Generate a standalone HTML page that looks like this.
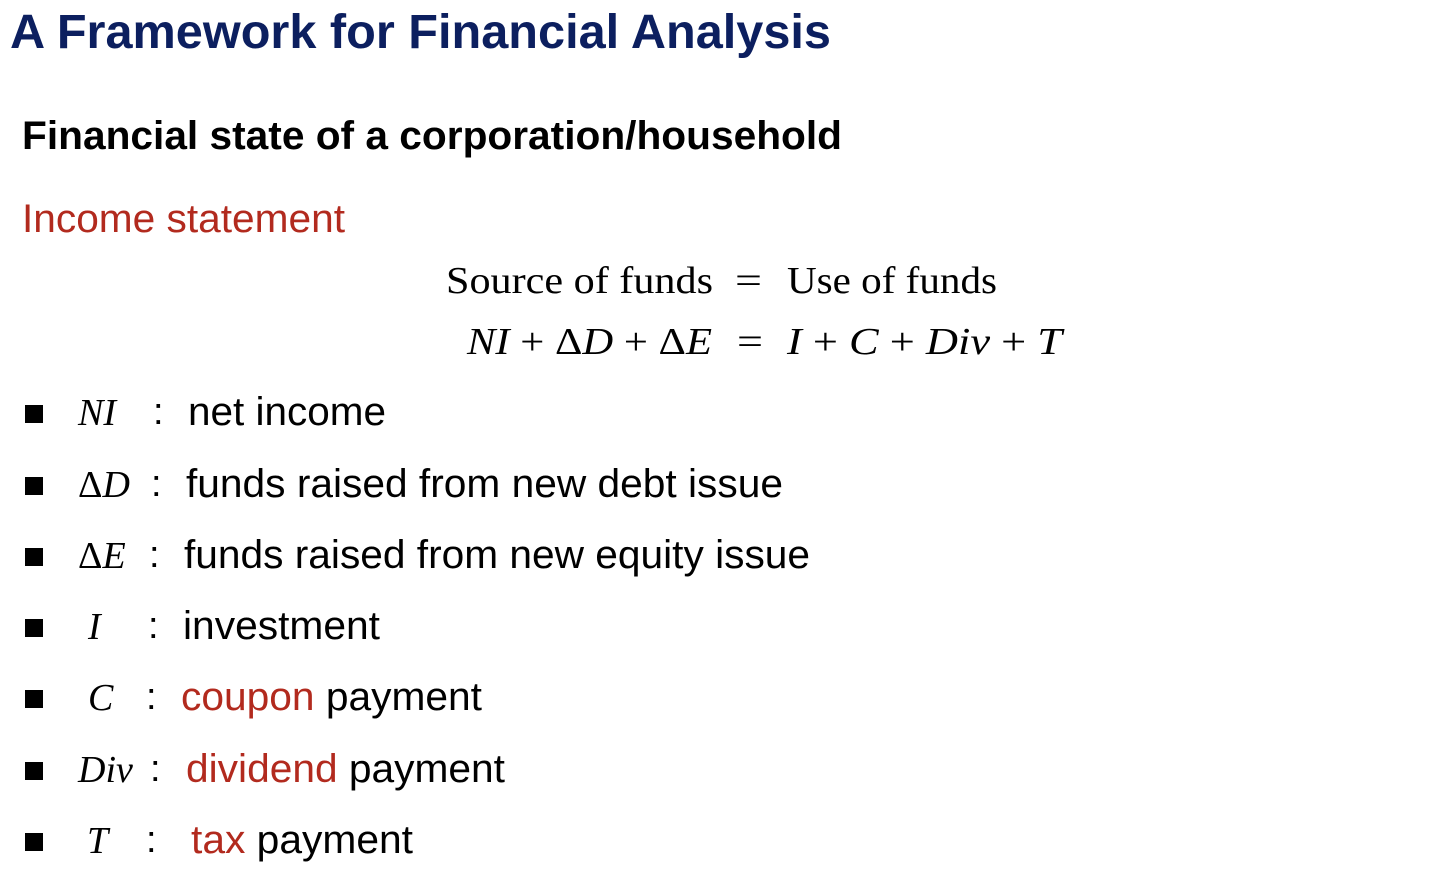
<!DOCTYPE html>
<html><head><meta charset="utf-8"><style>
html,body{margin:0;padding:0;background:#fff;width:1444px;height:888px;overflow:hidden}
svg{display:block}
.s{font-family:"Liberation Sans",Arial,sans-serif}
.m{font-family:"Liberation Serif","DejaVu Serif",serif}
</style></head><body>
<svg width="1444" height="888" viewBox="0 0 1444 888">
<text class="s" x="10" y="48" font-size="48" font-weight="bold" fill="#0c1f5f" textLength="821" lengthAdjust="spacingAndGlyphs">A Framework for Financial Analysis</text>
<text class="s" x="22" y="149" font-size="40" font-weight="bold" fill="#000" textLength="820" lengthAdjust="spacingAndGlyphs">Financial state of a corporation/household</text>
<text class="s" x="22" y="232" font-size="40" fill="#b22a1e" textLength="323" lengthAdjust="spacingAndGlyphs">Income statement</text>

<g class="m" font-size="38" fill="#000">
<text x="446" y="293" textLength="267" lengthAdjust="spacingAndGlyphs">Source of funds</text>
<text x="735" y="293" textLength="27" lengthAdjust="spacingAndGlyphs">=</text>
<text x="787" y="293" textLength="210" lengthAdjust="spacingAndGlyphs">Use of funds</text>
</g>
<g class="m" font-size="38" fill="#000">
<text x="467" y="354" textLength="245" lengthAdjust="spacingAndGlyphs"><tspan font-style="italic">NI</tspan> + Δ<tspan font-style="italic">D</tspan> + Δ<tspan font-style="italic">E</tspan></text>
<text x="737" y="354" textLength="26" lengthAdjust="spacingAndGlyphs">=</text>
<text x="787" y="354" textLength="275" lengthAdjust="spacingAndGlyphs"><tspan font-style="italic">I</tspan> + <tspan font-style="italic">C</tspan> + <tspan font-style="italic">Div</tspan> + <tspan font-style="italic">T</tspan></text>
</g>

<g>
<g>
<rect x="25" y="405" width="18" height="18" fill="#000"/>
<text class="m" x="78" y="425" font-size="38" font-style="italic">NI</text>
<text class="s" x="153" y="424" font-size="38">:</text>
<text class="s" x="188" y="425" font-size="40" textLength="198" lengthAdjust="spacingAndGlyphs">net income</text>
</g>
<g>
<rect x="25" y="477" width="18" height="18" fill="#000"/>
<text class="m" x="78" y="497" font-size="38">Δ<tspan font-style="italic">D</tspan></text>
<text class="s" x="151" y="496" font-size="38">:</text>
<text class="s" x="186" y="497" font-size="40" textLength="597" lengthAdjust="spacingAndGlyphs">funds raised from new debt issue</text>
</g>
<g>
<rect x="25" y="548" width="18" height="18" fill="#000"/>
<text class="m" x="78" y="568" font-size="38">Δ<tspan font-style="italic">E</tspan></text>
<text class="s" x="149" y="567" font-size="38">:</text>
<text class="s" x="184" y="568" font-size="40" textLength="626" lengthAdjust="spacingAndGlyphs">funds raised from new equity issue</text>
</g>
<g>
<rect x="25" y="619" width="18" height="18" fill="#000"/>
<text class="m" x="88" y="639" font-size="38" font-style="italic">I</text>
<text class="s" x="148" y="638" font-size="38">:</text>
<text class="s" x="183" y="639" font-size="40" textLength="197" lengthAdjust="spacingAndGlyphs">investment</text>
</g>
<g>
<rect x="25" y="690" width="18" height="18" fill="#000"/>
<text class="m" x="88" y="710" font-size="38" font-style="italic">C</text>
<text class="s" x="146" y="709" font-size="38">:</text>
<text class="s" x="181" y="710" font-size="40" textLength="301" lengthAdjust="spacingAndGlyphs"><tspan fill="#b22a1e">coupon</tspan> payment</text>
</g>
<g>
<rect x="25" y="762" width="18" height="18" fill="#000"/>
<text class="m" x="78" y="782" font-size="38" font-style="italic">Div</text>
<text class="s" x="150" y="781" font-size="38">:</text>
<text class="s" x="186" y="782" font-size="40" textLength="319" lengthAdjust="spacingAndGlyphs"><tspan fill="#b22a1e">dividend</tspan> payment</text>
</g>
<g>
<rect x="25" y="833" width="18" height="18" fill="#000"/>
<text class="m" x="87" y="853" font-size="38" font-style="italic">T</text>
<text class="s" x="146" y="852" font-size="38">:</text>
<text class="s" x="191" y="853" font-size="40" textLength="222" lengthAdjust="spacingAndGlyphs"><tspan fill="#b22a1e">tax</tspan> payment</text>
</g>
</g>
</svg>
</body></html>
